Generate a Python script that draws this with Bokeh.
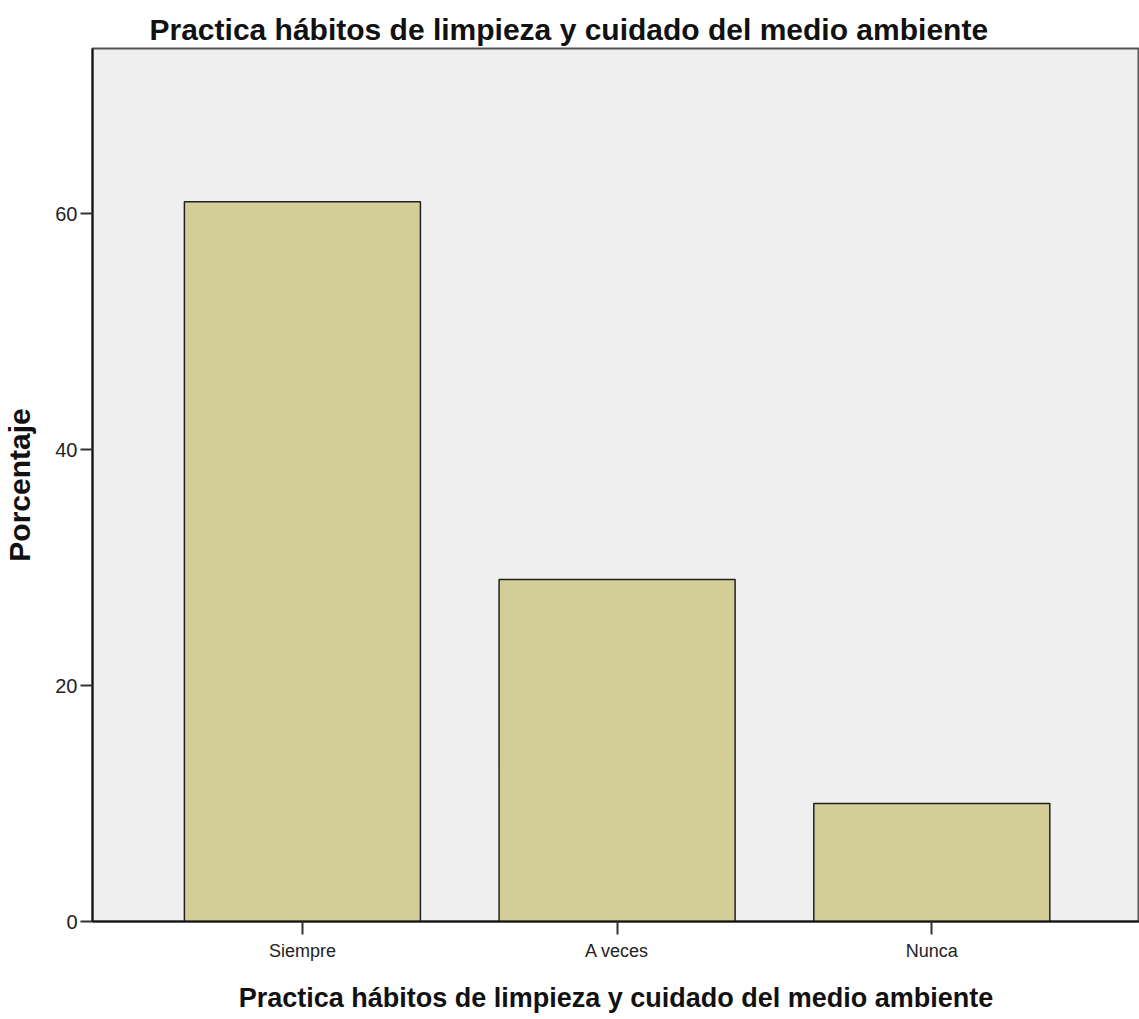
from bokeh.plotting import figure
from bokeh.models import ColumnDataSource, FixedTicker, Range1d, Title
from bokeh.embed import file_html
from bokeh.resources import INLINE

categories = ["Siempre", "A veces", "Nunca"]
percentages = [61.0, 29.0, 10.0]
y_ticks = [0, 20, 40, 60]
title_text = "Practica hábitos de limpieza y cuidado del medio ambiente"

xs = list(range(len(categories)))
src = ColumnDataSource(dict(x=xs, top=percentages, cat=categories))

p = figure(width=1139, height=1015, output_backend="svg", toolbar_location=None,
           x_range=Range1d(-0.667, 2.66), y_range=Range1d(0, 74),
           min_border_left=91, min_border_right=0, min_border_top=48, min_border_bottom=94)
p.background_fill_color = "#EFEFEF"
p.border_fill_color = "white"
p.outline_line_color = "#555555"
p.outline_line_width = 2
p.grid.visible = False

p.vbar(x="x", top="top", bottom=0, width=0.75, source=src,
       fill_color="#D3CE97", line_color="#222222", line_width=1.5)

t = Title(text=title_text, align="left", offset=57, text_font="Liberation Sans",
          text_font_size="30px", text_font_style="bold", text_color="#111111",
          standoff=5)
p.add_layout(t, "above")

xa = p.xaxis[0]
xa.ticker = FixedTicker(ticks=xs)
xa.major_label_overrides = {i: c for i, c in enumerate(categories)}
xa.axis_label = title_text
xa.axis_label_text_font = "Liberation Sans"
xa.axis_label_text_font_size = "27px"
xa.axis_label_text_font_style = "bold"
xa.axis_label_text_color = "#111111"
xa.axis_label_standoff = 19
xa.major_label_text_font = "Liberation Sans"
xa.major_label_text_font_size = "18px"
xa.major_label_text_color = "#222222"
xa.major_label_standoff = 6
xa.major_tick_out = 13
xa.major_tick_in = 0
xa.minor_tick_out = 0
xa.axis_line_color = "#111111"
xa.axis_line_width = 2
xa.major_tick_line_color = "#333333"
xa.major_tick_line_width = 2

ya = p.yaxis[0]
ya.ticker = FixedTicker(ticks=y_ticks)
ya.axis_label = "Porcentaje"
ya.axis_label_text_font = "Liberation Sans"
ya.axis_label_text_font_size = "30px"
ya.axis_label_text_font_style = "bold"
ya.axis_label_text_color = "#111111"
ya.axis_label_standoff = 16
ya.major_label_text_font = "Liberation Sans"
ya.major_label_text_font_size = "20px"
ya.major_label_text_color = "#222222"
ya.major_label_standoff = 3
ya.major_tick_out = 12
ya.major_tick_in = 0
ya.minor_tick_out = 0
ya.minor_tick_in = 0
ya.axis_line_color = "#111111"
ya.axis_line_width = 2
ya.major_tick_line_color = "#333333"
ya.major_tick_line_width = 2

open("out.html", "w").write(file_html(p, INLINE))
